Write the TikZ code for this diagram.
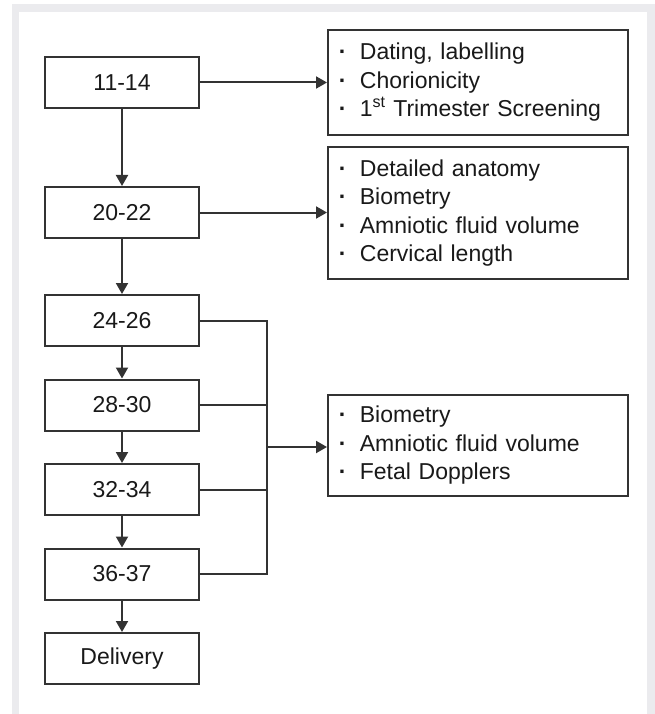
\documentclass[tikz,border=0pt]{standalone}
\usepackage{fontspec}
\setmainfont{Liberation Sans}
\usetikzlibrary{arrows.meta}
\definecolor{framegray}{HTML}{EBEBEE}
\definecolor{inkgray}{HTML}{333333}
\newcommand{\itm}{\makebox[21pt][l]{\bfseries ·}}
\begin{document}
\begin{tikzpicture}[x=1pt,y=-1pt,
  every node/.style={font=\fontsize{23}{28.5}\selectfont, text=black!90},
  weekbox/.style={draw=inkgray, line width=2pt, minimum width=154pt, minimum height=51pt, inner sep=0pt},
  scanbox/.style={draw=inkgray, line width=1.8pt, minimum width=300pt, align=left, text width=278pt, inner xsep=0pt, anchor=west},
  conn/.style={draw=inkgray, line width=2pt},
  arr/.style={conn, -{Triangle[width=12pt,length=11pt]}}]
\useasboundingbox (0,0) rectangle (655,714);
\fill[framegray] (12,4) rectangle (655,714);
\fill[white] (19,12) rectangle (647,714);
% week boxes
\node[weekbox] (wk1114) at (122,82.5) {11-14};
\node[weekbox] (wk2022) at (122,212.5) {20-22};
\node[weekbox] (wk2426) at (122,320.5) {24-26};
\node[weekbox] (wk2830) at (122,405) {28-30};
\node[weekbox] (wk3234) at (122,489.5) {32-34};
\node[weekbox] (wk3637) at (122,574) {36-37};
\node[weekbox] (delivery) at (122,658.5) {Delivery};
% what is checked
\node[scanbox, minimum height=105pt] (early) at (327,82.5)
  {\itm Dating, labelling\\ \itm Chorionicity\\ \itm 1\textsuperscript{st} Trimester Screening};
\node[scanbox, minimum height=132pt] (mid) at (327,213)
  {\itm Detailed anatomy\\ \itm Biometry\\ \itm Amniotic fluid volume\\ \itm Cervical length};
\node[scanbox, minimum height=101pt] (late) at (327,445.5)
  {\itm Biometry\\ \itm Amniotic fluid volume\\ \itm Fetal Dopplers};
% arrows
\draw[arr] (wk1114) -- (wk2022);
\draw[arr] (wk2022) -- (wk2426);
\draw[arr] (wk2426) -- (wk2830);
\draw[arr] (wk2830) -- (wk3234);
\draw[arr] (wk3234) -- (wk3637);
\draw[arr] (wk3637) -- (delivery);
\draw[arr] (wk1114) -- (early);
\draw[arr] (wk2022.east) -- (wk2022.east -| mid.west);
% bracket to the late scans
\coordinate (bus) at (267,447);
\draw[conn] (wk2426.east) -| (bus) |- (wk3637.east);
\draw[conn] (wk2830.east) -- (wk2830.east -| bus);
\draw[conn] (wk3234.east) -- (wk3234.east -| bus);
\draw[arr] (bus) -- (bus -| late.west);
\end{tikzpicture}
\end{document}
